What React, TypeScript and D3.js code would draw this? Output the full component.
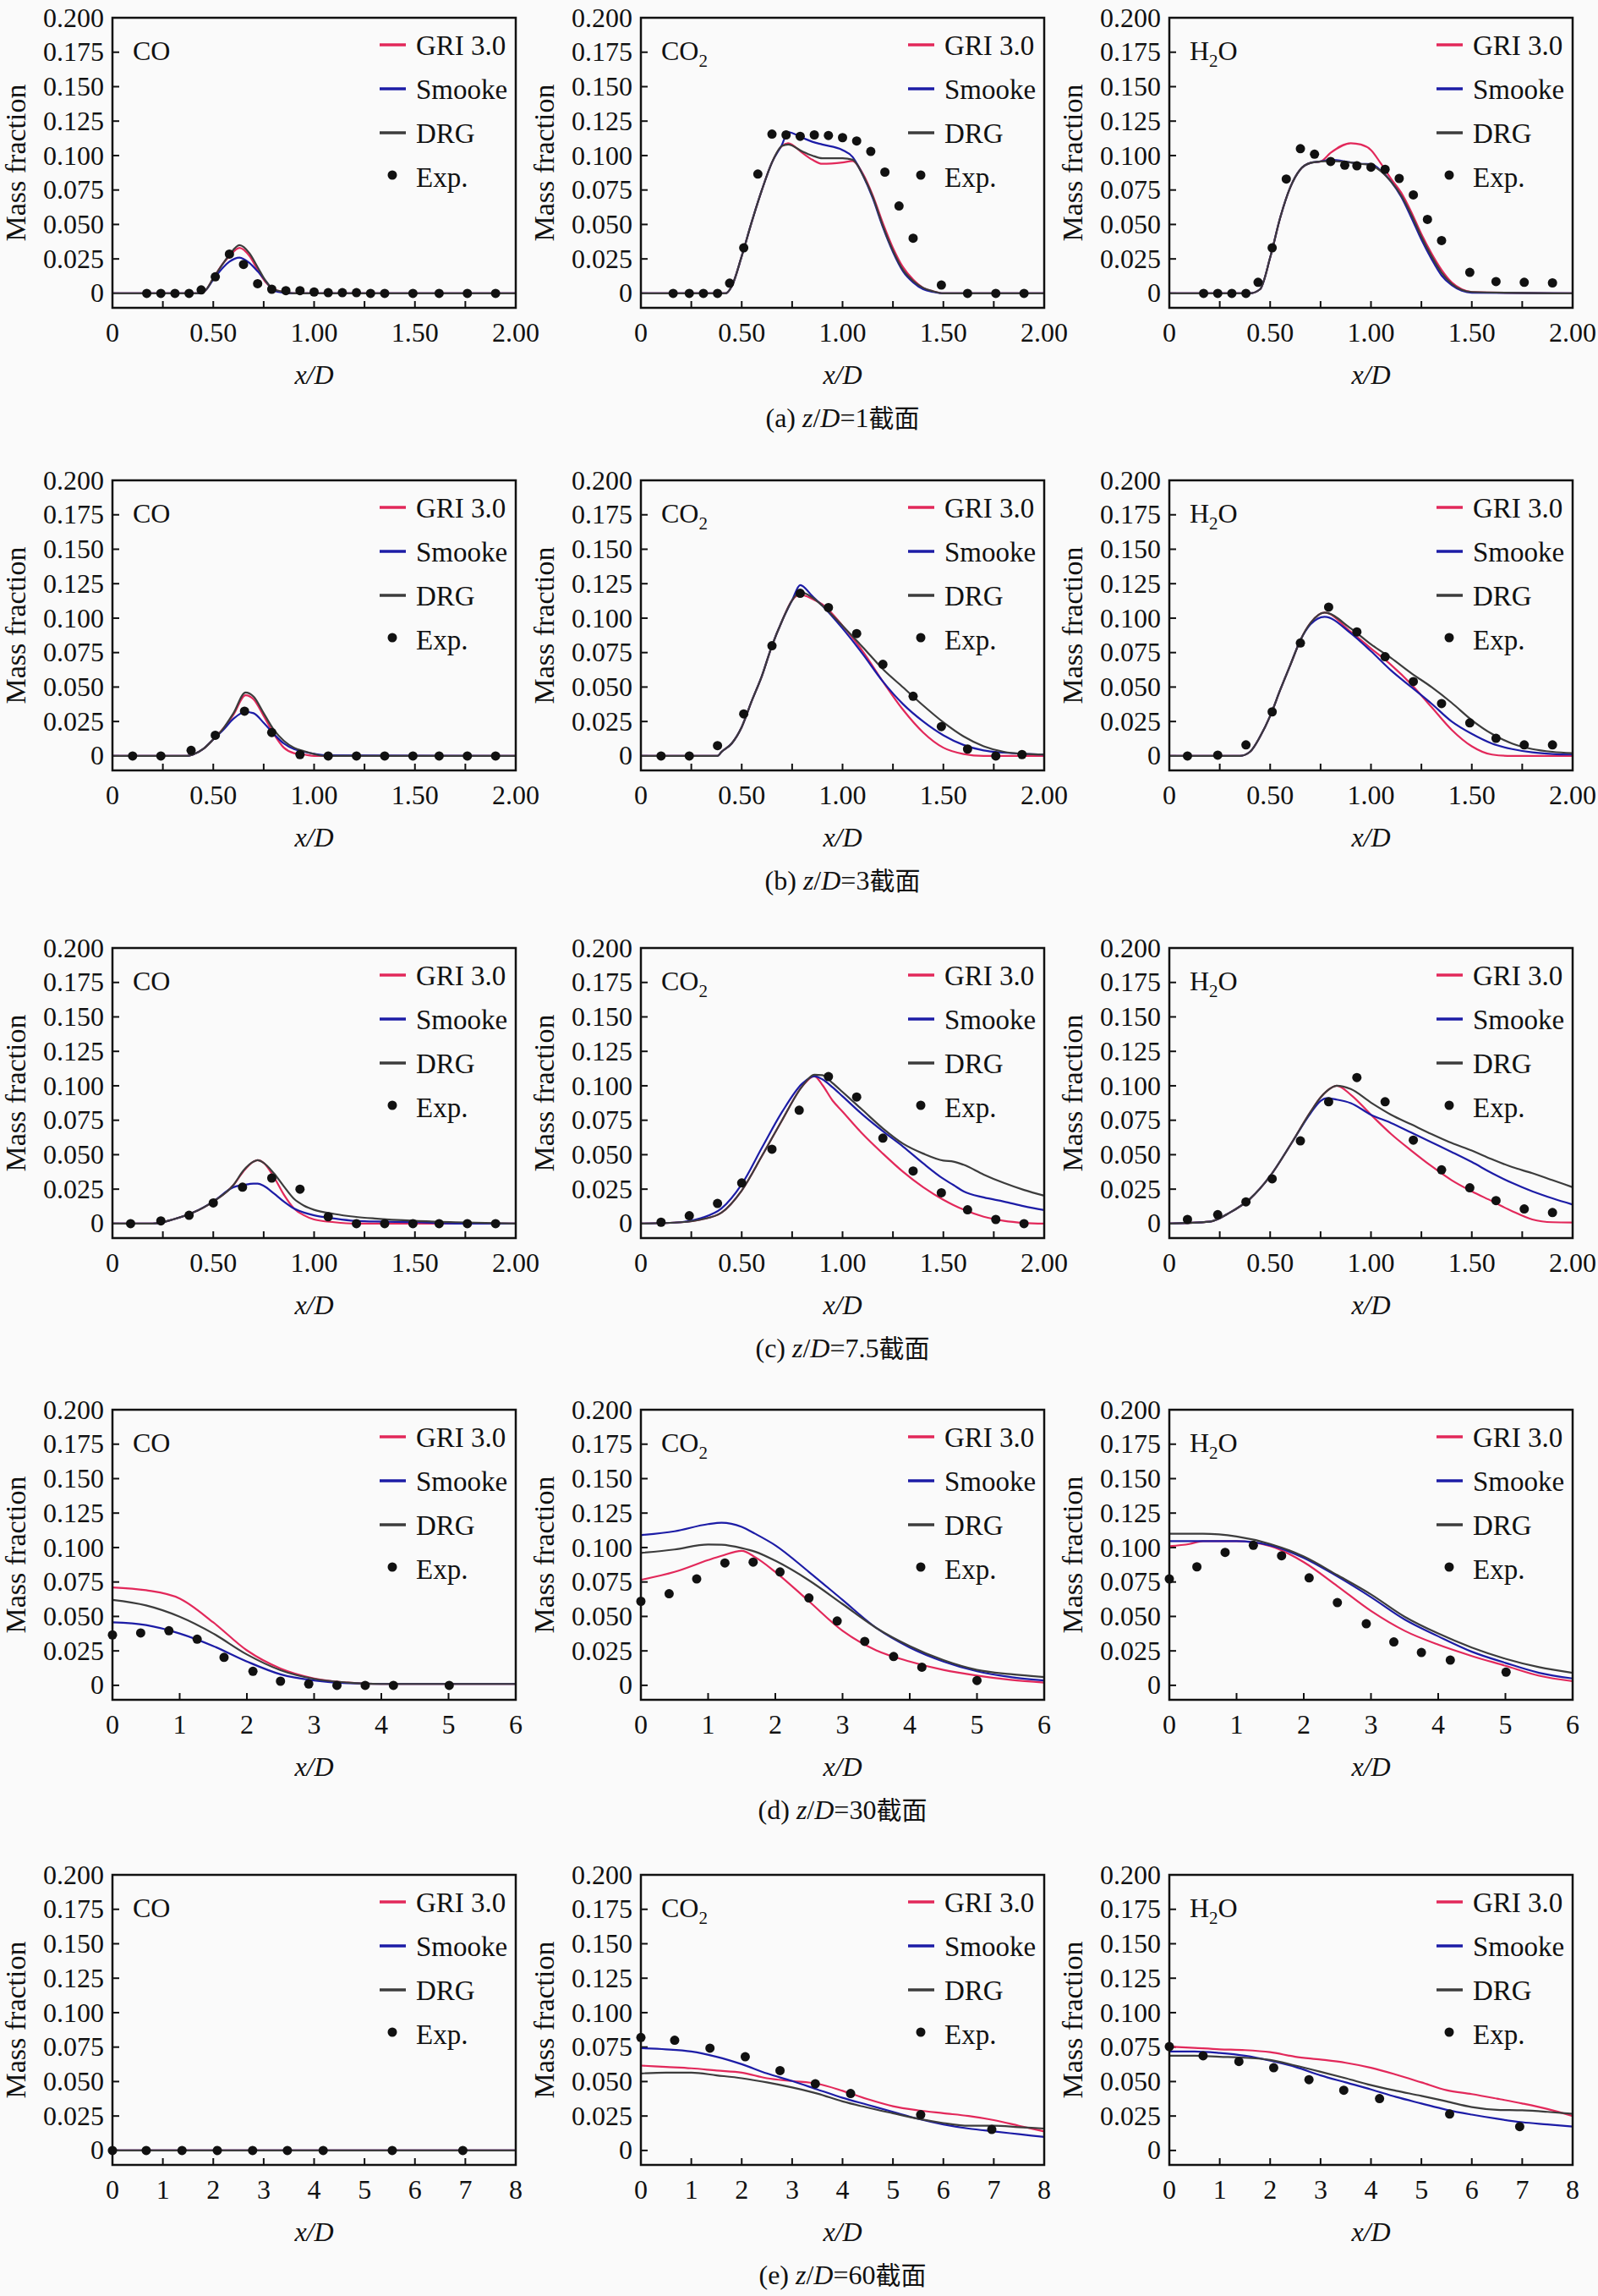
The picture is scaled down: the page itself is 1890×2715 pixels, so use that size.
import * as d3 from "d3"

// ---------- data ----------
const seriesNames = ["GRI 3.0", "Smooke", "DRG"]
const seriesColors = ["#e2285a", "#1c1ca6", "#3c3c3c"]
const captions = ["(a)", "(b)", "(c)", "(d)", "(e)"]
const zPositions = ["1", "3", "7.5", "30", "60"]
const yTicks = [0, 0.025, 0.05, 0.075, 0.1, 0.125, 0.15, 0.175, 0.2]

// (a) z/D = 1
const aCO_x = [0, 0.42, 0.46, 0.5, 0.55, 0.58, 0.63, 0.68, 0.72, 0.76, 0.8, 0.85, 0.9, 2.0]
const aCO_gri = [0, 0, 0.002, 0.011, 0.022, 0.027, 0.033, 0.027, 0.017, 0.008, 0.003, 0.001, 0, 0]
const aCO_smooke = [0, 0, 0.002, 0.01, 0.019, 0.023, 0.026, 0.022, 0.016, 0.009, 0.002, 0.0005, 0, 0]
const aCO_drg = [0, 0, 0.002, 0.011, 0.022, 0.028, 0.035, 0.029, 0.019, 0.009, 0.003, 0.001, 0, 0]
const aCO_expX = [0.17, 0.24, 0.31, 0.38, 0.44, 0.51, 0.58, 0.65, 0.72, 0.79, 0.86, 0.93, 1.0, 1.07, 1.14, 1.21, 1.28, 1.35, 1.49, 1.62, 1.76, 1.9]
const aCO_expY = [0, 0, 0, 0, 0.0025, 0.012, 0.0285, 0.021, 0.007, 0.003, 0.002, 0.002, 0.001, 0.0005, 0.0005, 0.0005, 0, 0, 0, 0, 0, 0]

const aCO2_x = [0, 0.42, 0.45, 0.5, 0.55, 0.6, 0.65, 0.7, 0.73, 0.8, 0.85, 0.9, 1.0, 1.05, 1.1, 1.15, 1.2, 1.25, 1.3, 1.35, 1.4, 1.45, 1.5, 2.0]
const aCO2_gri = [0, 0, 0.005, 0.027, 0.052, 0.075, 0.095, 0.107, 0.109, 0.102, 0.097, 0.094, 0.095, 0.096, 0.087, 0.071, 0.051, 0.033, 0.019, 0.01, 0.004, 0.0015, 0, 0]
const aCO2_smooke = [0, 0, 0.005, 0.027, 0.052, 0.075, 0.095, 0.108, 0.117, 0.113, 0.11, 0.108, 0.104, 0.099, 0.086, 0.069, 0.048, 0.03, 0.016, 0.008, 0.003, 0.001, 0, 0]
const aCO2_drg = [0, 0, 0.005, 0.027, 0.052, 0.075, 0.095, 0.107, 0.108, 0.103, 0.1, 0.098, 0.098, 0.097, 0.086, 0.07, 0.049, 0.031, 0.017, 0.009, 0.004, 0.0015, 0, 0]
const aCO2_expX = [0.16, 0.24, 0.31, 0.38, 0.44, 0.51, 0.58, 0.65, 0.72, 0.79, 0.86, 0.93, 1.0, 1.07, 1.14, 1.21, 1.28, 1.35, 1.49, 1.62, 1.76, 1.9]
const aCO2_expY = [0, 0, 0, 0, 0.0074, 0.033, 0.0866, 0.1156, 0.115, 0.114, 0.115, 0.1146, 0.113, 0.1106, 0.103, 0.088, 0.0634, 0.04, 0.006, 0, 0, 0]

const aH2O_x = [0, 0.4, 0.45, 0.5, 0.55, 0.6, 0.65, 0.7, 0.75, 0.8, 0.9, 0.95, 1.0, 1.05, 1.1, 1.15, 1.2, 1.25, 1.3, 1.35, 1.4, 1.45, 1.5, 2.0]
const aH2O_gri = [0, 0, 0.003, 0.026, 0.055, 0.077, 0.09, 0.0947, 0.0957, 0.102, 0.109, 0.108, 0.104, 0.094, 0.083, 0.073, 0.059, 0.043, 0.029, 0.017, 0.008, 0.003, 0.001, 0]
const aH2O_smooke = [0, 0, 0.003, 0.026, 0.055, 0.077, 0.09, 0.0947, 0.0957, 0.097, 0.095, 0.094, 0.0937, 0.089, 0.081, 0.07, 0.055, 0.039, 0.025, 0.013, 0.006, 0.002, 0.0005, 0]
const aH2O_drg = [0, 0, 0.003, 0.026, 0.055, 0.077, 0.09, 0.0947, 0.0957, 0.096, 0.095, 0.094, 0.093, 0.0885, 0.081, 0.071, 0.057, 0.041, 0.027, 0.015, 0.007, 0.0025, 0.001, 0]
const aH2O_expX = [0.17, 0.24, 0.31, 0.38, 0.44, 0.51, 0.58, 0.65, 0.72, 0.8, 0.87, 0.93, 1.0, 1.07, 1.14, 1.21, 1.28, 1.35, 1.49, 1.62, 1.76, 1.9]
const aH2O_expY = [0, 0, 0, 0, 0.008, 0.033, 0.083, 0.105, 0.101, 0.0957, 0.093, 0.0926, 0.0916, 0.09, 0.0834, 0.0715, 0.0537, 0.0383, 0.0152, 0.0086, 0.008, 0.0076]

// (b) z/D = 3
const bCO_x = [0, 0.37, 0.4, 0.45, 0.5, 0.55, 0.6, 0.66, 0.7, 0.75, 0.8, 0.85, 0.9, 0.95, 1.0, 1.05, 2.0]
const bCO_gri = [0, 0, 0.001, 0.005, 0.012, 0.02, 0.03, 0.044, 0.041, 0.029, 0.016, 0.006, 0.002, 0.001, 0, 0, 0]
const bCO_smooke = [0, 0, 0.001, 0.005, 0.012, 0.019, 0.027, 0.032, 0.031, 0.024, 0.016, 0.009, 0.005, 0.003, 0.0015, 0.0005, 0]
const bCO_drg = [0, 0, 0.001, 0.005, 0.012, 0.02, 0.031, 0.046, 0.043, 0.031, 0.019, 0.011, 0.006, 0.0035, 0.0014, 0, 0]
const bCO_expX = [0.1, 0.24, 0.39, 0.51, 0.655, 0.79, 0.93, 1.07, 1.21, 1.35, 1.49, 1.62, 1.76, 1.9]
const bCO_expY = [0, 0, 0.004, 0.015, 0.0325, 0.017, 0.001, 0, 0, 0, 0, 0, 0, 0]

const bCO2_x = [0, 0.38, 0.4, 0.45, 0.5, 0.55, 0.6, 0.65, 0.7, 0.75, 0.79, 0.85, 0.9, 1.0, 1.1, 1.2, 1.3, 1.4, 1.5, 1.6, 1.7, 1.8, 1.9, 2.0]
const bCO2_gri = [0, 0, 0.003, 0.009, 0.021, 0.04, 0.058, 0.08, 0.098, 0.113, 0.117, 0.114, 0.11, 0.0945, 0.076, 0.054, 0.0335, 0.017, 0.006, 0.0014, 0, 0, 0, 0]
const bCO2_smooke = [0, 0, 0.003, 0.009, 0.021, 0.04, 0.058, 0.08, 0.098, 0.113, 0.124, 0.116, 0.109, 0.0925, 0.074, 0.054, 0.0376, 0.025, 0.015, 0.008, 0.004, 0.0024, 0.0015, 0.001]
const bCO2_drg = [0, 0, 0.003, 0.009, 0.021, 0.04, 0.058, 0.08, 0.098, 0.113, 0.119, 0.115, 0.109, 0.0945, 0.079, 0.063, 0.0498, 0.0366, 0.0244, 0.0142, 0.007, 0.003, 0.0015, 0.001]
const bCO2_expX = [0.1, 0.24, 0.38, 0.51, 0.65, 0.79, 0.93, 1.07, 1.2, 1.35, 1.49, 1.62, 1.76, 1.89]
const bCO2_expY = [0, 0, 0.0075, 0.0305, 0.08, 0.118, 0.1077, 0.0888, 0.0665, 0.0433, 0.0213, 0.005, 0, 0.001]

const bH2O_x = [0, 0.35, 0.4, 0.45, 0.5, 0.55, 0.6, 0.65, 0.7, 0.77, 0.9, 1.0, 1.1, 1.2, 1.3, 1.4, 1.5, 1.6, 1.7, 1.8, 1.9, 2.0]
const bH2O_gri = [0, 0, 0.003, 0.014, 0.029, 0.048, 0.066, 0.084, 0.0965, 0.104, 0.09, 0.078, 0.066, 0.052, 0.0355, 0.019, 0.007, 0.001, 0, 0, 0, 0]
const bH2O_smooke = [0, 0, 0.003, 0.014, 0.029, 0.048, 0.066, 0.084, 0.0955, 0.101, 0.089, 0.076, 0.062, 0.05, 0.038, 0.025, 0.016, 0.009, 0.005, 0.0026, 0.0014, 0.001]
const bH2O_drg = [0, 0, 0.003, 0.014, 0.029, 0.048, 0.066, 0.084, 0.0965, 0.104, 0.0925, 0.081, 0.071, 0.06, 0.05, 0.0386, 0.026, 0.016, 0.009, 0.005, 0.003, 0.002]
const bH2O_expX = [0.09, 0.24, 0.38, 0.51, 0.65, 0.79, 0.93, 1.07, 1.21, 1.35, 1.49, 1.62, 1.76, 1.9]
const bH2O_expY = [0, 0.0006, 0.008, 0.032, 0.082, 0.108, 0.09, 0.072, 0.054, 0.038, 0.024, 0.0128, 0.008, 0.008]

// (c) z/D = 7.5
const cCO_x = [0, 0.2, 0.3, 0.4, 0.5, 0.6, 0.65, 0.7, 0.72, 0.75, 0.8, 0.85, 0.9, 0.95, 1.0, 1.1, 1.2, 1.3, 1.5, 1.7, 2.0]
const cCO_gri = [0, 0, 0.003, 0.008, 0.016, 0.028, 0.038, 0.045, 0.046, 0.044, 0.034, 0.021, 0.011, 0.006, 0.003, 0.001, 0, 0, 0, 0, 0]
const cCO_smooke = [0, 0, 0.003, 0.008, 0.016, 0.0264, 0.028, 0.029, 0.029, 0.0274, 0.022, 0.016, 0.011, 0.008, 0.006, 0.0037, 0.002, 0.0015, 0.001, 0, 0]
const cCO_drg = [0, 0, 0.003, 0.008, 0.016, 0.028, 0.0386, 0.045, 0.046, 0.044, 0.0366, 0.027, 0.018, 0.013, 0.01, 0.007, 0.005, 0.0037, 0.002, 0.001, 0]
const cCO_expX = [0.09, 0.24, 0.38, 0.5, 0.645, 0.79, 0.93, 1.07, 1.21, 1.35, 1.49, 1.62, 1.76, 1.9]
const cCO_expY = [0, 0.002, 0.006, 0.015, 0.0264, 0.033, 0.025, 0.005, 0, 0, 0, 0, 0, 0]

const cCO2_x = [0, 0.2, 0.3, 0.4, 0.5, 0.6, 0.7, 0.8, 0.86, 0.9, 0.95, 1.0, 1.1, 1.2, 1.3, 1.4, 1.5, 1.55, 1.6, 1.7, 1.8, 1.9, 2.0]
const cCO2_gri = [0, 0.001, 0.003, 0.008, 0.024, 0.049, 0.075, 0.0996, 0.107, 0.1006, 0.0894, 0.0813, 0.065, 0.0508, 0.0376, 0.0264, 0.0173, 0.0135, 0.0102, 0.005, 0.002, 0.0005, 0]
const cCO2_smooke = [0, 0.001, 0.004, 0.011, 0.0285, 0.055, 0.081, 0.1016, 0.107, 0.1047, 0.099, 0.0924, 0.079, 0.067, 0.0559, 0.0437, 0.0325, 0.028, 0.0234, 0.019, 0.016, 0.0126, 0.0098]
const cCO2_drg = [0, 0.001, 0.003, 0.008, 0.024, 0.049, 0.075, 0.0996, 0.108, 0.1077, 0.102, 0.0955, 0.0823, 0.0691, 0.058, 0.0508, 0.0457, 0.045, 0.0427, 0.0356, 0.0295, 0.0244, 0.0203]
const cCO2_expX = [0.1, 0.24, 0.38, 0.5, 0.65, 0.785, 0.93, 1.07, 1.2, 1.35, 1.49, 1.62, 1.76, 1.9]
const cCO2_expY = [0.001, 0.0057, 0.0146, 0.0295, 0.054, 0.0823, 0.1067, 0.0919, 0.062, 0.0382, 0.0224, 0.01, 0.003, 0]

const cH2O_x = [0, 0.2, 0.3, 0.4, 0.5, 0.6, 0.7, 0.75, 0.78, 0.83, 0.9, 1.0, 1.1, 1.2, 1.3, 1.4, 1.5, 1.6, 1.7, 1.8, 1.9, 2.0]
const cH2O_gri = [0, 0.0014, 0.008, 0.018, 0.0345, 0.057, 0.081, 0.0915, 0.096, 0.1, 0.0935, 0.079, 0.065, 0.053, 0.0417, 0.0315, 0.0234, 0.0163, 0.009, 0.003, 0.001, 0.0008]
const cH2O_smooke = [0, 0.0014, 0.008, 0.018, 0.0345, 0.057, 0.08, 0.089, 0.091, 0.09, 0.0874, 0.079, 0.073, 0.066, 0.059, 0.052, 0.0447, 0.0366, 0.0295, 0.0234, 0.0183, 0.0138]
const cH2O_drg = [0, 0.0014, 0.008, 0.018, 0.0345, 0.057, 0.081, 0.0915, 0.096, 0.1, 0.0976, 0.0878, 0.079, 0.072, 0.065, 0.0585, 0.053, 0.0467, 0.041, 0.0366, 0.0315, 0.0264]
const cH2O_expX = [0.09, 0.24, 0.38, 0.51, 0.65, 0.79, 0.93, 1.07, 1.21, 1.35, 1.49, 1.62, 1.76, 1.9]
const cH2O_expY = [0.003, 0.0065, 0.0158, 0.0325, 0.06, 0.0884, 0.106, 0.0884, 0.0606, 0.039, 0.026, 0.0167, 0.0106, 0.008]

// (d) z/D = 30
const dCO_x = [0, 0.5, 1.0, 1.5, 2.0, 2.5, 3.0, 3.5, 4.0, 5.0, 6.0]
const dCO_gri = [0.0711, 0.069, 0.063, 0.0457, 0.0254, 0.0122, 0.005, 0.002, 0.001, 0.001, 0.001]
const dCO_smooke = [0.0457, 0.0437, 0.0376, 0.0285, 0.0173, 0.008, 0.0035, 0.0015, 0.001, 0.001, 0.001]
const dCO_drg = [0.062, 0.058, 0.0498, 0.0376, 0.0224, 0.011, 0.0047, 0.002, 0.001, 0.001, 0.001]
const dCO_expX = [0, 0.42, 0.84, 1.26, 1.66, 2.09, 2.5, 2.92, 3.34, 3.76, 4.18, 5.01]
const dCO_expY = [0.0366, 0.038, 0.0396, 0.0335, 0.0203, 0.0102, 0.003, 0.001, 0, 0, 0, 0]

const dCO2_x = [0, 0.5, 1.0, 1.2, 1.5, 1.7, 2.0, 2.5, 3.0, 3.5, 4.0, 4.5, 5.0, 5.5, 6.0]
const dCO2_gri = [0.0766, 0.0823, 0.0909, 0.094, 0.0976, 0.093, 0.0823, 0.061, 0.0396, 0.0254, 0.0173, 0.0112, 0.0071, 0.004, 0.002]
const dCO2_smooke = [0.109, 0.1118, 0.117, 0.118, 0.115, 0.11, 0.1016, 0.0823, 0.062, 0.0417, 0.0274, 0.0173, 0.0102, 0.006, 0.0035]
const dCO2_drg = [0.0961, 0.0986, 0.1022, 0.102, 0.0996, 0.097, 0.0904, 0.0762, 0.059, 0.0417, 0.0285, 0.0183, 0.0112, 0.0081, 0.006]
const dCO2_expX = [0, 0.42, 0.83, 1.25, 1.67, 2.07, 2.5, 2.92, 3.33, 3.76, 4.18, 5.0]
const dCO2_expY = [0.061, 0.0665, 0.0772, 0.0888, 0.0894, 0.0823, 0.0634, 0.0467, 0.0319, 0.0209, 0.0132, 0.0035]

const dH2O_x = [0, 0.3, 0.5, 1.0, 1.5, 2.0, 2.5, 3.0, 3.5, 4.0, 4.5, 5.0, 5.5, 6.0]
const dH2O_gri = [0.101, 0.1026, 0.1047, 0.1047, 0.101, 0.0894, 0.072, 0.054, 0.0396, 0.0295, 0.0213, 0.0142, 0.007, 0.003]
const dH2O_smooke = [0.1047, 0.1047, 0.1047, 0.1047, 0.1016, 0.0925, 0.079, 0.064, 0.0478, 0.0356, 0.0244, 0.0163, 0.0091, 0.005]
const dH2O_drg = [0.11, 0.11, 0.11, 0.108, 0.1026, 0.0935, 0.08, 0.066, 0.0498, 0.0376, 0.0274, 0.0193, 0.0132, 0.0091]
const dH2O_expX = [0, 0.41, 0.83, 1.25, 1.67, 2.08, 2.5, 2.93, 3.34, 3.75, 4.18, 5.01]
const dH2O_expY = [0.0772, 0.086, 0.0965, 0.1016, 0.094, 0.078, 0.06, 0.0447, 0.0315, 0.0238, 0.0183, 0.0096]

// (e) z/D = 60
const eCO_x = [0, 8]
const eCO_gri = [0, 0]
const eCO_smooke = [0, 0]
const eCO_drg = [0, 0]
const eCO_expX = [0, 0.67, 1.38, 2.08, 2.78, 3.47, 4.18, 5.55, 6.95]
const eCO_expY = [0, 0, 0, 0, 0, 0, 0, 0, 0]

const eCO2_x = [0, 0.5, 1.0, 1.5, 2.0, 2.5, 3.0, 3.5, 4.0, 4.5, 5.0, 5.5, 6.0, 6.5, 7.0, 7.5, 8.0]
const eCO2_gri = [0.0616, 0.0606, 0.0596, 0.058, 0.0565, 0.0524, 0.0504, 0.0484, 0.0433, 0.0372, 0.0321, 0.0291, 0.027, 0.025, 0.022, 0.0179, 0.0138]
const eCO2_smooke = [0.0742, 0.0734, 0.0718, 0.068, 0.0626, 0.0559, 0.0504, 0.0443, 0.0382, 0.0331, 0.028, 0.023, 0.0189, 0.0159, 0.0138, 0.0118, 0.0098]
const eCO2_drg = [0.0559, 0.0565, 0.0565, 0.0545, 0.0524, 0.0494, 0.0457, 0.0413, 0.0356, 0.0311, 0.027, 0.023, 0.0199, 0.0179, 0.0179, 0.0169, 0.0159]
const eCO2_expX = [0, 0.67, 1.37, 2.07, 2.76, 3.46, 4.16, 5.55, 6.96]
const eCO2_expY = [0.082, 0.08, 0.0742, 0.068, 0.058, 0.0484, 0.0413, 0.026, 0.0152]

const eH2O_x = [0, 0.5, 1.0, 1.5, 2.0, 2.5, 3.0, 3.5, 4.0, 4.5, 5.0, 5.5, 6.0, 6.5, 7.0, 7.5, 8.0]
const eH2O_gri = [0.0754, 0.0744, 0.0734, 0.0728, 0.0713, 0.068, 0.066, 0.0636, 0.06, 0.055, 0.0494, 0.0437, 0.0409, 0.0376, 0.0341, 0.0301, 0.025]
const eH2O_smooke = [0.0718, 0.0718, 0.0707, 0.0687, 0.0652, 0.0606, 0.0545, 0.0494, 0.0443, 0.0388, 0.0341, 0.0295, 0.026, 0.023, 0.0205, 0.0189, 0.0173]
const eH2O_drg = [0.0687, 0.0687, 0.068, 0.0673, 0.0657, 0.0616, 0.0571, 0.0524, 0.0474, 0.0433, 0.0396, 0.0356, 0.0315, 0.0295, 0.0291, 0.028, 0.0266]
const eH2O_expX = [0, 0.67, 1.38, 2.07, 2.77, 3.46, 4.17, 5.56, 6.95]
const eH2O_expY = [0.0754, 0.0687, 0.0646, 0.06, 0.0514, 0.0437, 0.0376, 0.0264, 0.0173]

// ---------- layout ----------
const W = 1890
const H = 2715
const PW = 477
const PH = 343
const colLeft = [133, 758, 1383]
const rowTop = [21, 568, 1121, 1667, 2217]
const serif = "'Liberation Serif', 'Times New Roman', 'DejaVu Serif', serif"

type PanelData = {
  species: "CO" | "CO2" | "H2O"
  xMax: number
  x: number[]
  lines: number[][]
  expX: number[]
  expY: number[]
}

const rows: PanelData[][] = [
  [
    { species: "CO", xMax: 2, x: aCO_x, lines: [aCO_gri, aCO_smooke, aCO_drg], expX: aCO_expX, expY: aCO_expY },
    { species: "CO2", xMax: 2, x: aCO2_x, lines: [aCO2_gri, aCO2_smooke, aCO2_drg], expX: aCO2_expX, expY: aCO2_expY },
    { species: "H2O", xMax: 2, x: aH2O_x, lines: [aH2O_gri, aH2O_smooke, aH2O_drg], expX: aH2O_expX, expY: aH2O_expY },
  ],
  [
    { species: "CO", xMax: 2, x: bCO_x, lines: [bCO_gri, bCO_smooke, bCO_drg], expX: bCO_expX, expY: bCO_expY },
    { species: "CO2", xMax: 2, x: bCO2_x, lines: [bCO2_gri, bCO2_smooke, bCO2_drg], expX: bCO2_expX, expY: bCO2_expY },
    { species: "H2O", xMax: 2, x: bH2O_x, lines: [bH2O_gri, bH2O_smooke, bH2O_drg], expX: bH2O_expX, expY: bH2O_expY },
  ],
  [
    { species: "CO", xMax: 2, x: cCO_x, lines: [cCO_gri, cCO_smooke, cCO_drg], expX: cCO_expX, expY: cCO_expY },
    { species: "CO2", xMax: 2, x: cCO2_x, lines: [cCO2_gri, cCO2_smooke, cCO2_drg], expX: cCO2_expX, expY: cCO2_expY },
    { species: "H2O", xMax: 2, x: cH2O_x, lines: [cH2O_gri, cH2O_smooke, cH2O_drg], expX: cH2O_expX, expY: cH2O_expY },
  ],
  [
    { species: "CO", xMax: 6, x: dCO_x, lines: [dCO_gri, dCO_smooke, dCO_drg], expX: dCO_expX, expY: dCO_expY },
    { species: "CO2", xMax: 6, x: dCO2_x, lines: [dCO2_gri, dCO2_smooke, dCO2_drg], expX: dCO2_expX, expY: dCO2_expY },
    { species: "H2O", xMax: 6, x: dH2O_x, lines: [dH2O_gri, dH2O_smooke, dH2O_drg], expX: dH2O_expX, expY: dH2O_expY },
  ],
  [
    { species: "CO", xMax: 8, x: eCO_x, lines: [eCO_gri, eCO_smooke, eCO_drg], expX: eCO_expX, expY: eCO_expY },
    { species: "CO2", xMax: 8, x: eCO2_x, lines: [eCO2_gri, eCO2_smooke, eCO2_drg], expX: eCO2_expX, expY: eCO2_expY },
    { species: "H2O", xMax: 8, x: eH2O_x, lines: [eH2O_gri, eH2O_smooke, eH2O_drg], expX: eH2O_expX, expY: eH2O_expY },
  ],
]

const SpeciesLabel = ({ species }: { species: string }) => {
  const common = { x: 24, y: 50, fontSize: 32, fontFamily: serif, fill: "#111" }
  if (species === "CO2")
    return (
      <text {...common}>
        CO<tspan dy={8} fontSize={21}>2</tspan>
      </text>
    )
  if (species === "H2O")
    return (
      <text {...common}>
        H<tspan dy={8} fontSize={21}>2</tspan>
        <tspan dy={-8}>O</tspan>
      </text>
    )
  return <text {...common}>CO</text>
}

const Panel = ({ d, left, top }: { d: PanelData; left: number; top: number }) => {
  const x = d3.scaleLinear().domain([0, d.xMax]).range([0, PW])
  const y = d3.scaleLinear().domain([-0.0105, 0.2]).range([PH, 0])
  const small = d.xMax === 2
  const tickVals = small ? d3.range(0.25, 2, 0.25) : d3.range(1, d.xMax, 1)
  const labelVals = small ? [0, 0.5, 1, 1.5, 2] : d3.range(0, d.xMax + 1, 1)
  const fmtX = (v: number) => (small ? (v === 0 ? "0" : v.toFixed(2)) : String(v))
  const fmtY = (v: number) => (v === 0 ? "0" : v.toFixed(3))
  const line = d3
    .line<number>()
    .x((_v, i) => x(d.x[i]))
    .y(v => y(v))
    .curve(d3.curveMonotoneX)

  return (
    <g transform={`translate(${left},${top})`}>
      {/* y ticks + labels */}
      {yTicks.map(t => (
        <g key={t}>
          <line x1={0} x2={8} y1={y(t)} y2={y(t)} stroke="#111" strokeWidth={2} />
          <text x={-10} y={y(t)} dy="0.33em" textAnchor="end" fontSize={32} fontFamily={serif} fill="#111">
            {fmtY(t)}
          </text>
        </g>
      ))}
      {/* x ticks */}
      {tickVals.map(t => (
        <line key={t} x1={x(t)} x2={x(t)} y1={PH} y2={PH - 8} stroke="#111" strokeWidth={2} />
      ))}
      {labelVals.map(t => (
        <text key={t} x={x(t)} y={PH + 40} textAnchor="middle" fontSize={32} fontFamily={serif} fill="#111">
          {fmtX(t)}
        </text>
      ))}
      <text x={PW / 2} y={PH + 90} textAnchor="middle" fontSize={32} fontFamily={serif} fontStyle="italic" fill="#111">
        x/D
      </text>
      <text
        transform={`translate(${-115},${PH / 2}) rotate(-90)`}
        textAnchor="middle"
        dy="0.35em"
        fontSize={34}
        fontFamily={serif}
        fill="#111"
      >
        Mass fraction
      </text>

      {/* curves */}
      {d.lines.map((vals, i) => (
        <path key={i} d={line(vals) || ""} fill="none" stroke={seriesColors[i]} strokeWidth={2.2} />
      ))}
      {d.expX.map((xv, i) => (
        <circle key={i} cx={x(xv)} cy={y(d.expY[i])} r={5.5} fill="#111" />
      ))}

      <SpeciesLabel species={d.species} />

      {/* legend */}
      {seriesNames.map((name, i) => (
        <g key={name} transform={`translate(${PW - 161},${32 + i * 52})`}>
          <line x1={0} x2={31} y1={0} y2={0} stroke={seriesColors[i]} strokeWidth={3.5} />
          <text x={43} y={0} dy="0.35em" fontSize={33} fontFamily={serif} fill="#111">
            {name}
          </text>
        </g>
      ))}
      <g transform={`translate(${PW - 161},${32 + 3 * 52})`}>
        <circle cx={15} cy={-2} r={5.5} fill="#111" />
        <text x={43} y={0} dy="0.35em" fontSize={33} fontFamily={serif} fill="#111">
          Exp.
        </text>
      </g>

      {/* frame */}
      <rect x={0} y={0} width={PW} height={PH} fill="none" stroke="#111" strokeWidth={2.5} />
    </g>
  )
}

export default function App() {
  return (
    <svg
      width={W}
      height={H}
      viewBox={`0 0 ${W} ${H}`}
      style={{ position: "absolute", left: 0, top: 0, background: "#fafafa" }}
    >
      <rect width={W} height={H} fill="#fafafa" />
      {rows.map((row, r) => (
        <g key={r}>
          {row.map((p, c) => (
            <Panel key={c} d={p} left={colLeft[c]} top={rowTop[r]} />
          ))}
          <text
            x={colLeft[1] + PW / 2}
            y={rowTop[r] + PH + 141}
            textAnchor="middle"
            fontSize={32}
            fontFamily={serif}
            fill="#111"
          >
            {captions[r]} <tspan fontStyle="italic">z</tspan>/<tspan fontStyle="italic">D</tspan>={zPositions[r]}
            <tspan fontFamily="'Noto Sans CJK SC', sans-serif" fontSize={30}>截面</tspan>
          </text>
        </g>
      ))}
    </svg>
  )
}
